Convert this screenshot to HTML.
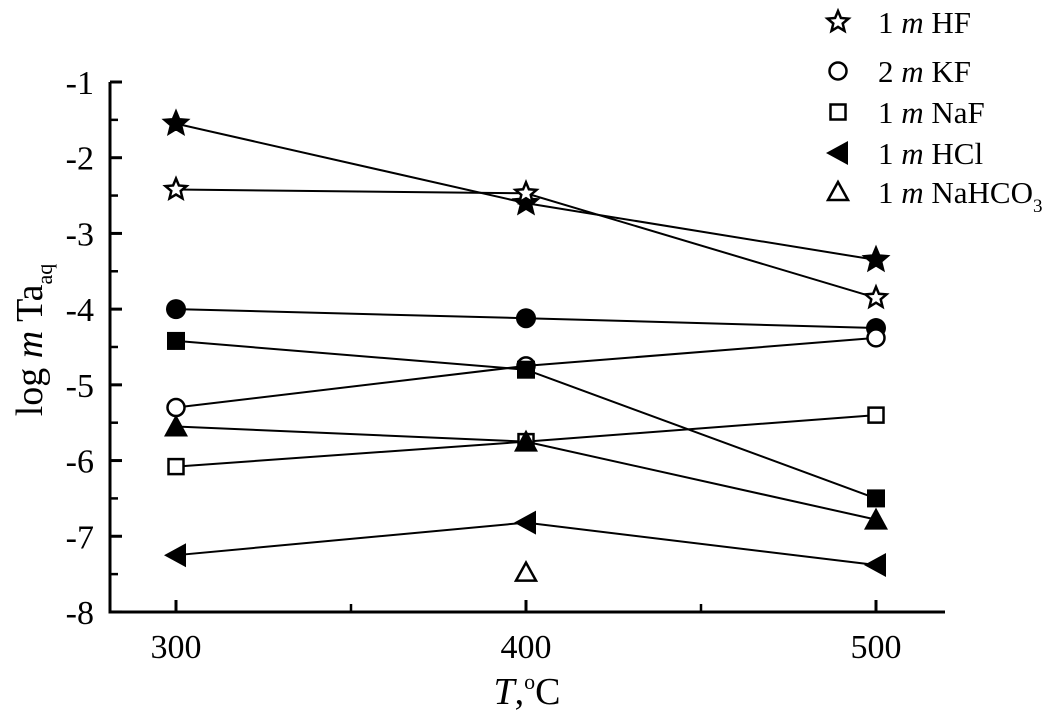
<!DOCTYPE html>
<html><head><meta charset="utf-8"><style>
body{margin:0;background:#fff}
svg{display:block;font-family:"Liberation Serif",serif}
</style></head><body>
<svg id="c" width="1063" height="717" viewBox="0 0 1063 717"></svg>
<script>
const temps=[300,400,500];
const hfFilled=[-1.55,-2.6,-3.35];
const hfOpen=[-2.42,-2.47,-3.85];
const kfFilled=[-4.0,-4.12,-4.25];
const kfOpen=[-5.3,-4.75,-4.38];
const nafFilled=[-4.42,-4.8,-6.5];
const nafOpen=[-6.08,-5.75,-5.4];
const hclFilled=[-7.25,-6.82,-7.38];
const triFilled=[-5.55,-5.75,-6.78];
const nahco3OpenT=[400];
const nahco3Open=[-7.48];
const yTicks=[-1,-2,-3,-4,-5,-6,-7,-8];
const xTicks=[300,400,500];
const xMinor=[350,450];
const yMinor=[-1.5,-2.5,-3.5,-4.5,-5.5,-6.5,-7.5];

const NS="http://www.w3.org/2000/svg";
const svg=document.getElementById('c');
const X=v=>176+(v-300)*3.5;
const Y=v=>82+(-1-v)*75.71;
function mk(t,a,p){const e=document.createElementNS(NS,t);for(const k in a)e.setAttribute(k,a[k]);(p||svg).appendChild(e);return e;}
const AX=110,AY=612;
let ax=mk('path',{d:`M${AX},${Y(-1)}V${AY}H945`,stroke:'#000','stroke-width':3,fill:'none'});


yTicks.forEach(v=>{
 let t=mk('line',{x1:AX,x2:AX+12,y1:Y(v),y2:Y(v),stroke:'#000','stroke-width':3});
 
 
 let l=mk('text',{x:AX-16,y:Y(v)+12,'text-anchor':'end','font-size':34});l.textContent=v;
 
 
});
yMinor.forEach(v=>{
 let t=mk('line',{x1:AX,x2:AX+8,y1:Y(v),y2:Y(v),stroke:'#000','stroke-width':2.5});
 
 
});
xTicks.forEach(v=>{
 let t=mk('line',{x1:X(v),x2:X(v),y1:AY,y2:AY-12,stroke:'#000','stroke-width':3});
 
 
 let l=mk('text',{x:X(v),y:AY+46,'text-anchor':'middle','font-size':34});l.textContent=v;
 
 
});
xMinor.forEach(v=>{
 let t=mk('line',{x1:X(v),x2:X(v),y1:AY,y2:AY-8,stroke:'#000','stroke-width':2.5});
 
 
});
let xt=mk('text',{x:527,y:704,'text-anchor':'middle','font-size':38});
xt.innerHTML='<tspan font-style="italic">T</tspan>,<tspan dy="-15" font-size="22">o</tspan><tspan dy="15">C</tspan>';


let yt=mk('text',{transform:'translate(42,340) rotate(-90)','text-anchor':'middle','font-size':38});
yt.innerHTML='log <tspan font-style="italic">m</tspan> Ta<tspan dy="10" font-size="22">aq</tspan>';



function star(cx,cy,r,fill){let p='';for(let i=0;i<10;i++){const rr=i%2?r*0.45:r;const a=-Math.PI/2+i*Math.PI/5;p+=(i?'L':'M')+(cx+rr*Math.cos(a)).toFixed(1)+','+(cy+rr*Math.sin(a)).toFixed(1);}return mk('path',{d:p+'Z',fill:fill?'#000':'#fff',stroke:'#000','stroke-width':2.5});}
function marker(type,cx,cy){
 switch(type){
 case 'starF':return star(cx,cy,12,true);
 case 'starO':return star(cx,cy,11,false);
 case 'circF':return mk('circle',{cx,cy,r:10,fill:'#000'});
 case 'circO':return mk('circle',{cx,cy,r:8.5,fill:'#fff',stroke:'#000','stroke-width':2.5});
 case 'sqF':return mk('rect',{x:cx-9,y:cy-9,width:18,height:18,fill:'#000'});
 case 'sqO':return mk('rect',{x:cx-7.5,y:cy-7.5,width:15,height:15,fill:'#fff',stroke:'#000','stroke-width':2.5});
 case 'ltF':return mk('path',{d:`M${cx-12},${cy}L${cx+10},${cy-12}L${cx+10},${cy+12}Z`,fill:'#000'});
 case 'triF':return mk('path',{d:`M${cx},${cy-12}L${cx+12},${cy+10}L${cx-12},${cy+10}Z`,fill:'#000'});
 case 'triO':return mk('path',{d:`M${cx},${cy-10}L${cx+10},${cy+8}L${cx-10},${cy+8}Z`,fill:'#fff',stroke:'#000','stroke-width':2.5});
 }
}
const series=[['hf-filled',hfFilled,'starF'],['hf-open',hfOpen,'starO'],['kf-filled',kfFilled,'circF'],['kf-open',kfOpen,'circO'],['naf-filled',nafFilled,'sqF'],['naf-open',nafOpen,'sqO'],['hcl-filled',hclFilled,'ltF'],['triangle-filled',triFilled,'triF']];
series.forEach(([n,vals,m])=>{
 let d=vals.map((v,i)=>(i?'L':'M')+X(temps[i])+','+Y(v)).join('');
 let l=mk('path',{d,stroke:'#000','stroke-width':2,fill:'none'});
 
 
});
series.forEach(([n,vals,m])=>{
 vals.forEach((v,i)=>{let e=marker(m,X(temps[i]),Y(v));
  
  });
});
nahco3Open.forEach((v,i)=>{let e=marker('triO',X(nahco3OpenT[i]),Y(v));
 
 });

const legend=[['starO','1 ','HF',22],['circO','2 ','KF',71],['sqO','1 ','NaF',112],['ltF','1 ','HCl',153],['triO','1 ','NaHCO',192]];
legend.forEach(([m,a,b,y])=>{
 let e=marker(m,838,y);
 
 
 let t=mk('text',{x:878,y:y+11,'font-size':31});
 t.innerHTML=a+'<tspan font-style="italic">m</tspan> '+b+(b==='NaHCO'?'<tspan dy="9" font-size="19">3</tspan>':'');
 
 
});
</script>
</body></html>
